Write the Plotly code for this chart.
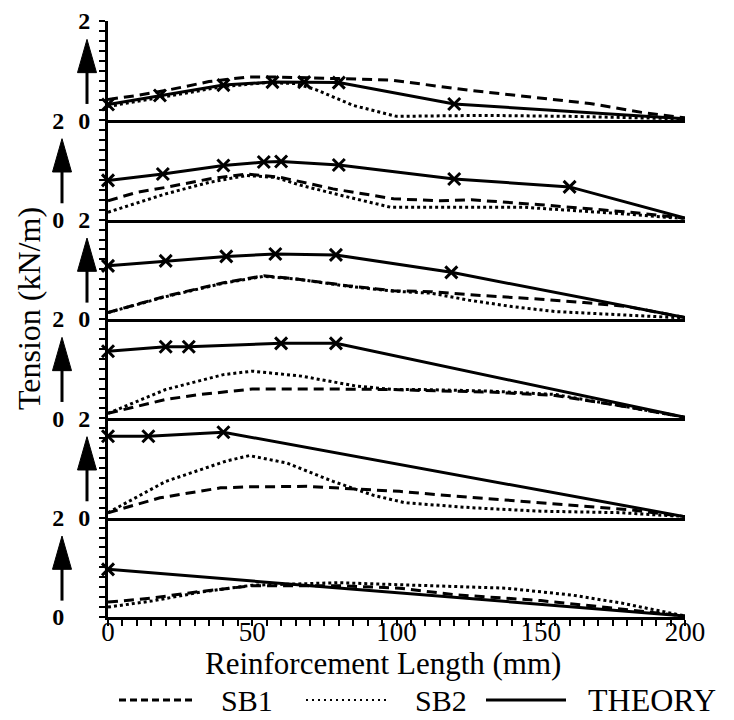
import plotly.graph_objects as go
from plotly.subplots import make_subplots

# ---------------- data ----------------
x_tick_vals = [0, 50, 100, 150, 200]
y_tick_vals = [0, 2]
series_names = ["SB1", "SB2", "THEORY"]
x_title = "Reinforcement Length (mm)"
y_title = "Tension (kN/m)"

# panels from top (1) to bottom (6)
theory_x = [
    [0, 18, 40, 57, 68, 80, 120, 200],
    [0, 19, 40, 54, 60, 80, 120, 160, 200],
    [0, 20, 41, 58, 79, 119, 200],
    [0, 20, 28, 60, 79, 200],
    [0, 14, 40, 200],
    [0, 200],
]
theory_y = [
    [0.32, 0.50, 0.71, 0.77, 0.77, 0.76, 0.33, 0.03],
    [0.79, 0.92, 1.09, 1.16, 1.17, 1.10, 0.82, 0.66, 0.03],
    [1.07, 1.17, 1.26, 1.31, 1.29, 0.94, 0.03],
    [1.35, 1.44, 1.44, 1.51, 1.51, 0.02],
    [1.64, 1.64, 1.72, 0.02],
    [0.96, 0.02],
]

sb1_x = [
    [0, 10, 20, 35, 48, 60, 80, 98, 126, 150, 167, 185, 200],
    [0, 10, 20, 35, 48, 60, 78, 99, 115, 126, 150, 181, 200],
    [0, 20, 40, 54, 66, 83, 99, 112, 130, 150, 165, 180, 200],
    [0, 20, 32, 50, 78, 99, 109, 132, 155, 179, 200],
    [0, 18, 39, 49, 69, 80, 101, 115, 138, 167, 181, 200],
    [0, 15, 30, 50, 80, 101, 120, 150, 175, 200],
]
sb1_y = [
    [0.42, 0.50, 0.60, 0.78, 0.87, 0.87, 0.84, 0.81, 0.60, 0.45, 0.34, 0.16, 0.05],
    [0.38, 0.55, 0.65, 0.82, 0.92, 0.85, 0.62, 0.42, 0.38, 0.40, 0.30, 0.15, 0.03],
    [0.13, 0.46, 0.73, 0.87, 0.80, 0.67, 0.57, 0.55, 0.47, 0.40, 0.33, 0.25, 0.03],
    [0.10, 0.38, 0.48, 0.59, 0.59, 0.58, 0.56, 0.53, 0.46, 0.24, 0.02],
    [0.10, 0.40, 0.60, 0.62, 0.63, 0.60, 0.53, 0.46, 0.36, 0.23, 0.16, 0.02],
    [0.30, 0.38, 0.50, 0.63, 0.63, 0.58, 0.45, 0.33, 0.18, 0.02],
]

sb2_x = [
    [0, 20, 40, 55, 65, 72, 85, 100, 130, 160, 200],
    [0, 20, 35, 48, 58, 67, 80, 98, 109, 144, 178, 200],
    [0, 20, 40, 54, 66, 83, 99, 112, 125, 140, 155, 180, 200],
    [0, 20, 40, 50, 67, 86, 99, 109, 132, 155, 179, 200],
    [0, 20, 41, 49, 62, 78, 92, 103, 126, 150, 178, 200],
    [0, 15, 32, 50, 80, 101, 138, 161, 178, 200],
]
sb2_y = [
    [0.28, 0.48, 0.68, 0.76, 0.74, 0.62, 0.30, 0.08, 0.10, 0.08, 0.03],
    [0.15, 0.52, 0.75, 0.89, 0.85, 0.69, 0.50, 0.25, 0.25, 0.25, 0.12, 0.02],
    [0.13, 0.45, 0.72, 0.86, 0.80, 0.66, 0.56, 0.52, 0.38, 0.25, 0.15, 0.08, 0.02],
    [0.10, 0.58, 0.88, 0.95, 0.85, 0.65, 0.58, 0.58, 0.55, 0.48, 0.24, 0.02],
    [0.10, 0.73, 1.14, 1.25, 1.10, 0.73, 0.45, 0.30, 0.20, 0.13, 0.10, 0.02],
    [0.20, 0.32, 0.50, 0.64, 0.69, 0.65, 0.58, 0.44, 0.28, 0.02],
]

# ---------------- figure ----------------
FONT = "Liberation Serif"
N = len(theory_x)
fig = make_subplots(rows=N, cols=1, shared_xaxes=True, vertical_spacing=0)

DASH = "10px,6px"
LW = 3
for i in range(N):
    r = i + 1
    fig.add_trace(go.Scatter(x=sb1_x[i], y=sb1_y[i], mode="lines", name=series_names[0],
                             showlegend=False,
                             line=dict(color="black", width=LW, dash=DASH)), row=r, col=1)
    fig.add_trace(go.Scatter(x=sb2_x[i], y=sb2_y[i], mode="lines", name=series_names[1],
                             showlegend=False,
                             line=dict(color="black", width=LW, dash="dot")), row=r, col=1)
    fig.add_trace(go.Scatter(x=theory_x[i], y=theory_y[i], mode="lines", name=series_names[2],
                             showlegend=False, line=dict(color="black", width=LW)), row=r, col=1)
    fig.add_trace(go.Scatter(x=theory_x[i][:-1], y=theory_y[i][:-1], mode="markers",
                             name=series_names[2], showlegend=False, cliponaxis=False,
                             marker=dict(symbol="x-thin", size=12, color="black",
                                         line=dict(color="black", width=3))), row=r, col=1)

for i in range(N):
    k = "" if i == 0 else str(i + 1)
    xa = dict(range=[0, 200], showline=True, linecolor="black", linewidth=3,
              showgrid=False, zeroline=False, ticks="", showticklabels=False)
    if i == N - 1:
        xa.update(ticks="outside", ticklen=6, tickwidth=2, tickcolor="black",
                  tickmode="array", tickvals=x_tick_vals, showticklabels=True,
                  ticklabelstandoff=-17,
                  tickfont=dict(family=FONT, size=27, color="black"),
                  minor=dict(tickmode="linear", tick0=0, dtick=5, ticks="outside",
                             ticklen=6, tickwidth=2, tickcolor="black"))
    fig.layout["xaxis" + k].update(xa)
    standoff = 4 if i % 2 == 0 else 30
    fig.layout["yaxis" + k].update(
        range=[0, 2], showline=True, linecolor="black", linewidth=LW,
        showgrid=False, zeroline=False, ticks="outside", ticklen=6, tickwidth=2,
        tickcolor="black", tickmode="array", tickvals=y_tick_vals,
        ticklabelstandoff=standoff,
        tickfont=dict(family=FONT, size=24, color="black", weight="bold"),
        minor=dict(tickmode="linear", tick0=0, dtick=0.2, ticks="outside",
                   ticklen=6, tickwidth=2, tickcolor="black"))

# page is offset by the 8px body margin of the html page
OFF = 8
W, H = 734 - OFF, 720 - OFF
# plot area in page pixels: x 108..685, y 21..617
PL, PR, PT, PB = 108, 685, 21, 617
L, T = PL - OFF, PT - OFF
R, B = W - (PR - OFF), H - (PB - OFF)
pw = PR - PL
ph = PB - PT


def px(x_page):
    return (x_page - PL) / pw


def py_page(y_page):
    return (PB - y_page) / ph


shapes = []
for i in range(N):
    k = "" if i == 0 else str(i + 1)
    d0, d1 = fig.layout["yaxis" + k].domain

    def pv(v):
        return d0 + (d1 - d0) * v / 2.0

    cx = px(87 if i % 2 == 0 else 62)
    hw = 9.5 / pw
    shapes.append(dict(type="line", xref="paper", yref="paper", x0=cx, x1=cx,
                       y0=pv(0.33), y1=pv(1.0), line=dict(color="black", width=LW)))
    path = "M {a},{b} L {c},{d} L {e},{b} Z".format(a=cx - hw, b=pv(0.96), c=cx, d=pv(1.63), e=cx + hw)
    shapes.append(dict(type="path", xref="paper", yref="paper", path=path,
                       fillcolor="black", line=dict(color="black", width=1)))

# legend (drawn below the axis title)
leg_y = py_page(700)
leg_items = [
    (119, 193, 219, 30, dict(color="black", width=3, dash="7px,4px")),
    (306, 386, 413, 30, dict(color="black", width=2.2, dash="2px,4px")),
    (486, 566, 586, 32, dict(color="black", width=3)),
]
annotations = [
    dict(text=y_title, xref="paper", yref="paper", x=px(29), y=py_page(309),
         textangle=-90, showarrow=False,
         font=dict(family=FONT, size=32, color="black"), xanchor="center", yanchor="middle"),
    dict(text=x_title, xref="paper", yref="paper", x=px(383), y=py_page(663),
         showarrow=False,
         font=dict(family=FONT, size=31, color="black"), xanchor="center", yanchor="middle"),
]
for (x0, x1, tx, fs, ln), name in zip(leg_items, series_names):
    shapes.append(dict(type="line", xref="paper", yref="paper", x0=px(x0), x1=px(x1),
                       y0=leg_y, y1=leg_y, line=ln))
    annotations.append(dict(text=name, xref="paper", yref="paper", x=px(tx), y=leg_y,
                            showarrow=False, xanchor="left", yanchor="middle",
                            font=dict(family=FONT, size=fs, color="black")))

fig.update_layout(
    template="none",
    width=W, height=H,
    margin=dict(l=L, r=R, t=T, b=B, autoexpand=False),
    paper_bgcolor="white", plot_bgcolor="white",
    shapes=shapes, annotations=annotations,
    showlegend=False,
)

fig.write_html("out.html")
